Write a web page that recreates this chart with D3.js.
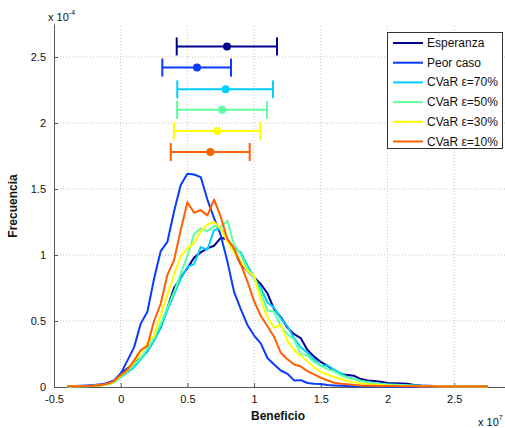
<!DOCTYPE html>
<html><head><meta charset="utf-8">
<script src="https://cdn.jsdelivr.net/npm/d3@7"></script>
<style>body{margin:0;background:#fff}svg{display:block;font-family:"Liberation Sans",Arial,Helvetica,sans-serif}</style>
</head><body><svg id="c" width="505" height="428"></svg>
<script>
const xGrid = [-0.40,-0.35,-0.30,-0.25,-0.20,-0.15,-0.10,-0.05,0.00,0.05,0.10,0.15,0.20,0.25,0.30,0.35,0.40,0.45,0.50,0.55,0.60,0.65,0.70,0.75,0.80,0.85,0.90,0.95,1.00,1.05,1.10,1.15,1.20,1.25,1.30,1.35,1.40,1.45,1.50,1.55,1.60,1.65,1.70,1.75,1.80,1.85,1.90,1.95,2.00,2.05,2.10,2.15,2.20,2.25,2.30,2.35,2.40,2.45,2.50,2.55,2.60,2.65,2.70,2.75];
const seriesNames = ["Esperanza","Peor caso","CVaR \u03b5=70%","CVaR \u03b5=50%","CVaR \u03b5=30%","CVaR \u03b5=10%"];
const seriesColors = ["#00008F","#0a3cff","#00cfff","#60ff9f","#ffff00","#ff5f00"];
const esperanza = [0.003,0.004,0.006,0.008,0.012,0.015,0.025,0.045,0.10,0.14,0.18,0.22,0.27,0.36,0.45,0.60,0.75,0.83,0.90,0.98,1.02,1.05,1.07,1.13,1.12,1.03,0.93,0.88,0.83,0.78,0.71,0.59,0.53,0.45,0.40,0.37,0.28,0.23,0.19,0.16,0.125,0.10,0.09,0.085,0.06,0.05,0.045,0.04,0.03,0.028,0.027,0.025,0.016,0.012,0.010,0.008,0.008,0.007,0.006,0.006,0.008,0.008,0.005,0.003];
const peorCaso = [0.005,0.007,0.009,0.012,0.016,0.02,0.03,0.05,0.10,0.20,0.30,0.48,0.57,0.82,1.03,1.10,1.33,1.53,1.615,1.61,1.59,1.42,1.28,1.15,0.95,0.72,0.59,0.47,0.39,0.33,0.22,0.17,0.125,0.10,0.05,0.052,0.03,0.025,0.022,0.015,0.012,0.010,0.008,0.006,0.005,0.004,0.003,0.003,0.002,0.002,0.002,0.002,0.002,0.002,0.002,0.002,0.002,0.002,0.002,0.002,0.002,0.002,0.002,0.002];
const cvar70 = [0.003,0.004,0.005,0.006,0.008,0.012,0.018,0.035,0.075,0.11,0.15,0.21,0.27,0.35,0.45,0.58,0.70,0.82,0.91,0.93,1.06,1.04,1.19,1.20,1.12,1.05,1.02,0.92,0.83,0.75,0.64,0.60,0.52,0.46,0.37,0.30,0.26,0.21,0.16,0.165,0.13,0.105,0.075,0.06,0.047,0.038,0.03,0.025,0.02,0.018,0.015,0.013,0.011,0.009,0.008,0.007,0.006,0.005,0.005,0.004,0.004,0.003,0.003,0.002];
const cvar50 = [0.003,0.004,0.005,0.006,0.009,0.012,0.018,0.035,0.08,0.12,0.17,0.22,0.29,0.37,0.48,0.60,0.72,0.86,0.99,1.16,1.20,1.18,1.22,1.21,1.26,1.08,1.00,0.90,0.82,0.72,0.58,0.57,0.46,0.40,0.36,0.25,0.24,0.19,0.16,0.135,0.12,0.09,0.07,0.06,0.045,0.035,0.028,0.022,0.018,0.015,0.013,0.011,0.009,0.008,0.007,0.006,0.005,0.005,0.004,0.004,0.003,0.003,0.003,0.002];
const cvar30 = [0.004,0.005,0.006,0.007,0.010,0.013,0.020,0.040,0.085,0.13,0.19,0.26,0.33,0.39,0.55,0.70,0.85,0.99,1.05,1.09,1.18,1.23,1.25,1.20,1.10,1.02,0.95,0.88,0.84,0.66,0.53,0.45,0.47,0.35,0.28,0.235,0.195,0.15,0.115,0.095,0.075,0.06,0.045,0.035,0.028,0.022,0.018,0.015,0.012,0.010,0.009,0.008,0.007,0.006,0.005,0.005,0.004,0.004,0.004,0.003,0.003,0.003,0.003,0.002];
const cvar10 = [0.005,0.005,0.006,0.007,0.010,0.015,0.025,0.045,0.09,0.13,0.20,0.28,0.31,0.50,0.63,0.85,0.96,1.19,1.40,1.32,1.34,1.30,1.42,1.29,1.12,1.05,0.93,0.80,0.65,0.54,0.46,0.38,0.26,0.21,0.17,0.155,0.12,0.095,0.07,0.05,0.032,0.025,0.02,0.016,0.012,0.010,0.009,0.008,0.007,0.007,0.006,0.006,0.005,0.005,0.005,0.005,0.004,0.004,0.004,0.004,0.004,0.004,0.004,0.004];
const ebMean = [0.797,0.572,0.787,0.761,0.724,0.672];
const ebLow  = [0.420,0.312,0.424,0.422,0.399,0.375];
const ebHigh = [1.172,0.827,1.142,1.097,1.047,0.967];
const ebY    = [2.58,2.42,2.255,2.10,1.94,1.78];
const xTicks = [-0.5,0,0.5,1,1.5,2,2.5];
const xTickLabels = ["-0.5","0","0.5","1","1.5","2","2.5"];
const yTicks = [0,0.5,1,1.5,2,2.5];
const yTickLabels = ["0","0.5","1","1.5","2","2.5"];

const allSeries = [esperanza,peorCaso,cvar70,cvar50,cvar30,cvar10];
const svg = d3.select("#c");
const L=54, R=505, T=24, B=387;
const x = d3.scaleLinear().domain([-0.5,2.881]).range([L,R]);
const y = d3.scaleLinear().domain([0,2.75]).range([B,T]);

// grid
const g = svg.append("g");
g.selectAll(".gx").data(xTicks.slice(1)).enter().append("line")
 .attr("x1",d=>x(d)).attr("x2",d=>x(d)).attr("y1",B).attr("y2",T)
 .attr("stroke","#c4c4c4").attr("stroke-width",1).attr("stroke-dasharray","1,2");
g.selectAll(".gy").data(yTicks.slice(1)).enter().append("line")
 .attr("x1",L).attr("x2",R).attr("y1",d=>y(d)).attr("y2",d=>y(d))
 .attr("stroke","#c4c4c4").attr("stroke-width",1).attr("stroke-dasharray","1,2");

// axes
const xAxis = d3.axisBottom(x).tickValues(xTicks).tickFormat((d,i)=>xTickLabels[i]).tickSizeInner(-4).tickSizeOuter(0).tickPadding(8);
const yAxis = d3.axisLeft(y).tickValues(yTicks).tickFormat((d,i)=>yTickLabels[i]).tickSizeInner(-4).tickSizeOuter(0).tickPadding(8);
const ax = svg.append("g").attr("transform",`translate(0,${B})`).call(xAxis);
const ay = svg.append("g").attr("transform",`translate(${L},0)`).call(yAxis);
[ax,ay].forEach(a=>{
  a.select(".domain").attr("stroke","#555").attr("stroke-width",1);
  a.selectAll(".tick line").attr("stroke","#555");
  a.selectAll("text").attr("font-size",11).attr("fill","#111").attr("font-family","Liberation Sans, Arial, sans-serif");
});

// curves
const line = d3.line().x((d,i)=>x(xGrid[i])).y(d=>y(d));
const plot = svg.append("g");
allSeries.forEach((s,k)=>{
  plot.append("path").datum(s).attr("d",line).attr("fill","none")
   .attr("stroke",seriesColors[k]).attr("stroke-width",2).attr("stroke-linejoin","round");
});

// error bars
const eb = svg.append("g");
ebMean.forEach((m,k)=>{
  const c=seriesColors[k], yy=y(ebY[k]);
  eb.append("line").attr("x1",x(ebLow[k])).attr("x2",x(ebHigh[k])).attr("y1",yy).attr("y2",yy).attr("stroke",c).attr("stroke-width",2);
  [ebLow[k],ebHigh[k]].forEach(v=>eb.append("line").attr("x1",x(v)).attr("x2",x(v)).attr("y1",yy-9).attr("y2",yy+9).attr("stroke",c).attr("stroke-width",2));
  eb.append("circle").attr("cx",x(m)).attr("cy",yy).attr("r",4).attr("fill",c);
});

// legend
const lg = svg.append("g");
lg.append("rect").attr("x",387.5).attr("y",32.5).attr("width",115).attr("height",116).attr("fill","#fff").attr("stroke","#333").attr("stroke-width",1);
seriesNames.forEach((n,k)=>{
  const yy = 43 + k*19.7;
  lg.append("line").attr("x1",393).attr("x2",423).attr("y1",yy).attr("y2",yy).attr("stroke",seriesColors[k]).attr("stroke-width",2);
  lg.append("text").attr("x",427).attr("y",yy+4).attr("font-size",12).attr("fill","#111").text(n);
});

// labels
svg.append("text").attr("x",278).attr("y",420).attr("text-anchor","middle").attr("font-size",12).attr("font-weight","bold").attr("fill","#111").text("Beneficio");
svg.append("text").attr("transform","translate(17,206) rotate(-90)").attr("text-anchor","middle").attr("font-size",12).attr("font-weight","bold").attr("fill","#111").text("Frecuencia");
// exponents
const e1 = svg.append("text").attr("x",48).attr("y",21).attr("font-size",11).attr("fill","#111");
e1.append("tspan").text("x 10");
e1.append("tspan").attr("dy",-6).attr("font-size",7).text("-4");
const e2 = svg.append("text").attr("x",478).attr("y",426).attr("font-size",11).attr("fill","#111");
e2.append("tspan").text("x 10");
e2.append("tspan").attr("dy",-6).attr("font-size",7).text("7");
</script></body></html>
